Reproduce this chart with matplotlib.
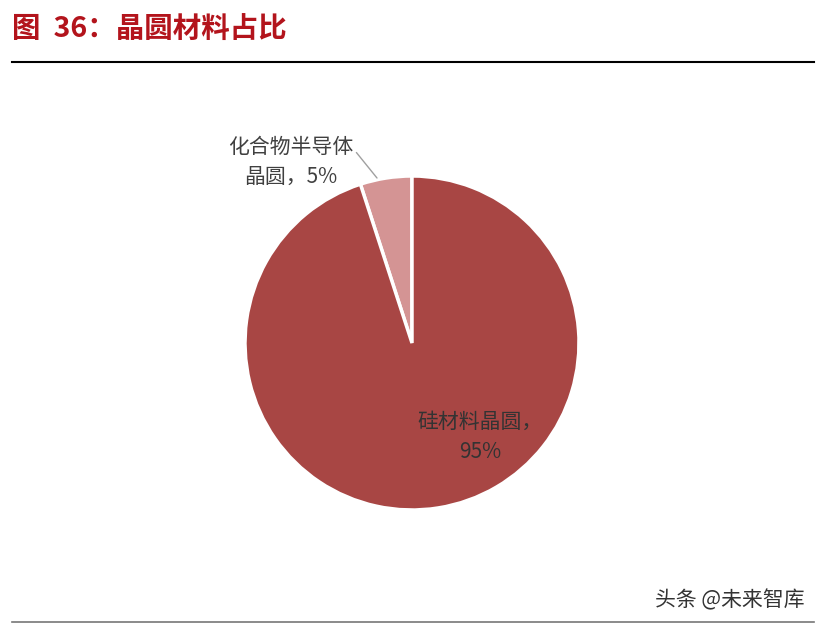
import matplotlib
matplotlib.use("Agg")
import matplotlib.pyplot as plt

plt.rcParams['font.family'] = ['Noto Sans CJK SC', 'DejaVu Sans']

labels = ["化合物半导体\n晶圆，5%", "硅材料晶圆，\n95%"]
values = [5, 95]
colors = ["#D49494", "#A84644"]

W, H = 824, 627
fig = plt.figure(figsize=(W / 100, H / 100), dpi=100)

# title and rules
fig.text(12 / W, 1 - 30 / H, "图  36：晶圆材料占比", fontsize=20.5, fontweight="bold",
         color="#B3141C", ha="left", va="center")
fig.add_artist(plt.Line2D([12 / W, 814 / W], [1 - 62 / H, 1 - 62 / H], color="black", lw=1.5))
fig.add_artist(plt.Line2D([12 / W, 814 / W], [1 - 622 / H, 1 - 622 / H], color="#777777", lw=1.2))
fig.text(805 / W, 1 - 600 / H, "头条 @未来智库", fontsize=15, color="#333333",
         ha="right", va="center")

# pie axes: center (412, 343), radius 167 px
cx, cy, r = 412, 343, 167
ax = fig.add_axes([(cx - r) / W, (H - cy - r) / H, 2 * r / W, 2 * r / H])
ax.pie(values, colors=colors, startangle=90, counterclock=True, radius=1,
       wedgeprops=dict(edgecolor="white", linewidth=2.5))
ax.set_xlim(-1, 1)
ax.set_ylim(-1, 1)
ax.set_aspect("equal")
ax.axis("off")


def px(x, y):
    return (x - cx) / r, (cy - y) / r


ax.annotate(labels[0], xy=px(377, 178), xytext=px(291, 162), ha="center", va="center",
            fontsize=15, color="#404040", linespacing=1.45, annotation_clip=False,
            arrowprops=dict(arrowstyle="-", color="#A0A0A0", lw=1,
                            shrinkA=0, shrinkB=0, relpos=(1.0, 0.75)))
ax.text(*px(480, 437), labels[1], ha="center", va="center", fontsize=15,
        color="#333333", linespacing=1.45)

fig.savefig("out.png", dpi=100)
